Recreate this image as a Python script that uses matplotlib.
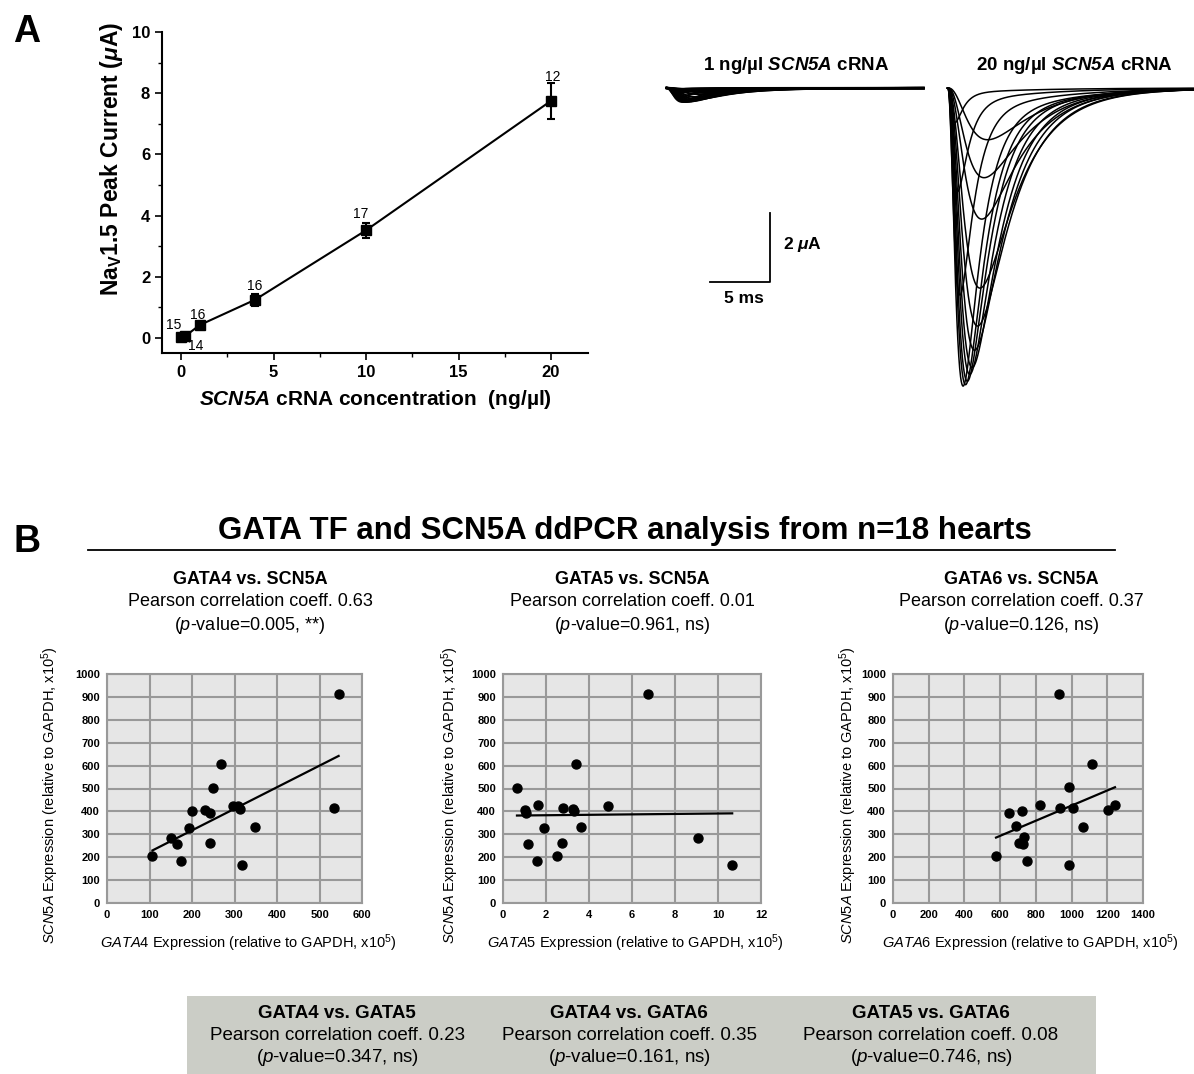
import numpy as np
import matplotlib
matplotlib.use("Agg")
import matplotlib.pyplot as plt
from matplotlib.patches import Rectangle
from matplotlib.lines import Line2D

plt.rcParams['font.family'] = ['Liberation Sans', 'DejaVu Sans']
plt.rcParams['mathtext.fontset'] = 'custom'
plt.rcParams['mathtext.rm'] = 'Liberation Sans'
plt.rcParams['mathtext.it'] = 'Liberation Sans:italic'
plt.rcParams['mathtext.bf'] = 'Liberation Sans:bold'
plt.rcParams['mathtext.bfit'] = 'Liberation Sans:bold:italic'

# ---- Panel A: dose response ----
crna_conc = [0, 0.2, 1, 4, 10, 20]
peak_current = [0.02, 0.05, 0.42, 1.25, 3.52, 7.75]
peak_err = [0.03, 0.04, 0.07, 0.2, 0.24, 0.58]
n_oocytes = ['15', '14', '16', '16', '17', '12']
n_offsets = [(-5, 9), (8, -7), (-1.5, 7.5), (0, 10), (-3.5, 11.5), (1.5, 17.5)]

# ---- Panel A: current traces (peak time after step in ms, peak amplitude in uA) ----
trace_peak_ms = [3.3, 3.0, 2.8, 2.65, 2.45, 2.2, 2.0, 1.8, 1.6, 1.45, 1.25, 1.0, 0.8, 0.6]
trace_amp_20ng = [1.5, 2.6, 3.8, 5.8, 6.9, 7.6, 8.1, 8.3, 8.5, 8.6, 8.64, 6.0, 3.0, 1.0]
trace_amp_1ng = [0.07, 0.12, 0.18, 0.27, 0.32, 0.35, 0.38, 0.39, 0.40, 0.40, 0.40, 0.28, 0.14, 0.05]

# ---- Panel B: ddPCR (relative to GAPDH, x10^5) ----
gata4 = [107, 150, 164, 174, 194, 201, 231, 242, 242, 249, 268, 297, 308, 313, 317, 349, 533, 545]
scn5a_vs_g4 = [205, 284, 258, 184, 329, 401, 408, 392, 262, 504, 605, 424, 424, 411, 166, 334, 415, 913]
gata5 = [0.65, 1.01, 1.06, 1.18, 1.59, 1.62, 1.91, 2.52, 2.75, 2.77, 3.25, 3.30, 3.40, 3.61, 4.88, 6.76, 9.09, 10.66]
scn5a_vs_g5 = [503, 408, 394, 258, 184, 426, 329, 206, 262, 415, 411, 401, 605, 334, 424, 913, 284, 166]
gata6 = [577, 650, 689, 704, 720, 726, 735, 750, 823, 933, 928, 986, 986, 1008, 1064, 1114, 1204, 1243]
scn5a_vs_g6 = [207, 394, 337, 262, 402, 258, 287, 184, 426, 415, 914, 506, 166, 415, 331, 605, 408, 426]

scatter_titles = ['GATA4 vs. SCN5A', 'GATA5 vs. SCN5A', 'GATA6 vs. SCN5A']
scatter_r = ['0.63', '0.01', '0.37']
scatter_p = ['0.005, **', '0.961, ns', '0.126, ns']
box_titles = ['GATA4 vs. GATA5', 'GATA4 vs. GATA6', 'GATA5 vs. GATA6']
box_r = ['0.23', '0.35', '0.08']
box_p = ['0.347, ns', '0.161, ns', '0.746, ns']

W, H = 1194, 1074
fig = plt.figure(figsize=(W / 100, H / 100), dpi=100)


def box(l, t, r, b):
    return [l / W, 1 - b / H, (r - l) / W, (b - t) / H]


def ftext(x, y, s, **kw):
    fig.text(x / W, 1 - y / H, s, ha='center', va='center', **kw)


# panel letters
ftext(27, 32, 'A', fontsize=27, fontweight='bold')
ftext(27, 542, 'B', fontsize=27, fontweight='bold')

# ---------- A: dose response ----------
ax = fig.add_axes(box(162, 32, 588, 353))
ax.errorbar(crna_conc, peak_current, yerr=peak_err, color='black', marker='s',
            markersize=7, lw=1.5, capsize=3, elinewidth=1.5, capthick=1.5)
for x, y, n, off in zip(crna_conc, peak_current, n_oocytes, n_offsets):
    ax.annotate(n, (x, y), xytext=off, textcoords='offset points',
                ha='center', va='center', fontsize=10)
ax.set_xlim(-1.03, 22.0)
ax.set_ylim(-0.49, 10)
ax.set_xticks([0, 5, 10, 15, 20])
ax.set_xticks([2.5, 7.5, 12.5, 17.5], minor=True)
ax.set_yticks([0, 2, 4, 6, 8, 10])
ax.set_yticks([1, 3, 5, 7, 9], minor=True)
for s in ['top', 'right']:
    ax.spines[s].set_visible(False)
for s in ['left', 'bottom']:
    ax.spines[s].set_linewidth(1.5)
ax.tick_params(which='major', length=5, width=1.2, labelsize=12)
ax.tick_params(which='minor', length=3, width=1.0)
for lab in ax.get_xticklabels() + ax.get_yticklabels():
    lab.set_fontweight('bold')
ax.set_ylabel(r'Na$_{\mathbf{V}}$1.5 Peak Current ($\mathbfit{\mu}$A)',
              fontsize=16.5, fontweight='bold')
ax.yaxis.set_label_coords(-0.088, 0.604)
ax.set_xlabel(r'$\mathbfit{SCN5A}$ cRNA concentration  (ng/µl)',
              fontsize=15, fontweight='bold', labelpad=6)

# ---------- A: current traces ----------
tax = fig.add_axes(box(650, 50, 1194, 410))
tax.set_xlim(0, 544 / 12)
tax.set_ylim(-(410 - 88) / 34.5, (88 - 50) / 34.5)
tax.axis('off')


def na_current(t, tp, amp, r=2.3, slow=0.05, tau_slow=6.0):
    tau_m = tp / np.log(3 * r + 1)
    act = (1 - np.exp(-t / tau_m)) ** 3
    i = (1 - slow) * act * np.exp(-t / (r * tau_m)) + slow * act * np.exp(-t / tau_slow)
    return -amp * i / i.max()


for t0, dur, amps, lw in [(1.4, 21.4, trace_amp_1ng, 1.6), (24.8, 20.6, trace_amp_20ng, 1.1)]:
    t = np.linspace(0, dur, 800)
    for tp, a in zip(trace_peak_ms, amps):
        tax.plot(t0 + t, na_current(t, tp, a), color='black', lw=lw)

# scale bar
tax.plot([5.0, 10.0, 10.0], [-5.62, -5.62, -3.62], color='black', lw=1.3)
tax.text(11.1, -4.55, r'2 $\mathbfit{\mu}$A', fontsize=12.5, fontweight='bold', va='center')
tax.text(7.8, -6.1, '5 ms', fontsize=12.5, fontweight='bold', ha='center', va='center')

ftext(796, 66, r'1 ng/µl $\mathbfit{SCN5A}$ cRNA', fontsize=13.5, fontweight='bold')
ftext(1074, 66, r'20 ng/µl $\mathbfit{SCN5A}$ cRNA', fontsize=13.5, fontweight='bold')

# ---------- B: header ----------
ftext(625, 531, 'GATA TF and SCN5A ddPCR analysis from n=18 hearts', fontsize=22.5, fontweight='bold')
fig.add_artist(Line2D([88 / W, 1115 / W], [1 - 550 / H, 1 - 550 / H], color='black', lw=1.3))

# ---------- B: scatter plots ----------
scatter_sets = [
    (gata4, scn5a_vs_g4, 'GATA4', (107, 362), (0, 600), np.arange(0, 601, 100), 248, 50, 250),
    (gata5, scn5a_vs_g5, 'GATA5', (503, 761), (0, 12), np.arange(0, 13, 2), 635, 450, 632),
    (gata6, scn5a_vs_g6, 'GATA6', (893, 1143), (0, 1400), np.arange(0, 1401, 200), 1030, 848, 1021),
]
for k, (xv, yv, gname, (l, r), xlim, xticks, xlab_c, ylab_c, title_c) in enumerate(scatter_sets):
    sax = fig.add_axes(box(l, 674, r, 903))
    sax.set_facecolor('#e6e6e6')
    sax.set_xlim(*xlim)
    sax.set_ylim(0, 1000)
    sax.set_xticks(xticks)
    sax.set_yticks(np.arange(0, 1001, 100))
    sax.grid(True, color='#999999', lw=1.5)
    sax.set_axisbelow(True)
    for s in sax.spines.values():
        s.set_color('#999999')
        s.set_linewidth(1.5)
    sax.tick_params(length=0, labelsize=8, pad=5)
    for lab in sax.get_xticklabels() + sax.get_yticklabels():
        lab.set_fontweight('bold')
    sax.scatter(xv, yv, s=42, color='black', zorder=3, clip_on=False)
    slope, icpt = np.polyfit(xv, yv, 1)
    xs = np.array([min(xv), max(xv)])
    sax.plot(xs, slope * xs + icpt, color='black', lw=1.6, zorder=3)

    ftext(xlab_c, 943, r'$\mathit{' + gname + r'}$ Expression (relative to GAPDH, x10$^5$)', fontsize=10.5)
    fig.text(ylab_c / W, 1 - 795 / H, r'$\mathit{SCN5A}$ Expression (relative to GAPDH, x10$^5$)',
             rotation=90, ha='center', va='center', fontsize=10.5)
    ftext(title_c, 580, scatter_titles[k], fontsize=13, fontweight='bold')
    ftext(title_c, 602, 'Pearson correlation coeff. ' + scatter_r[k], fontsize=13)
    ftext(title_c, 625, r'($\mathit{p}$-value=' + scatter_p[k] + ')', fontsize=13)

# ---------- B: bottom box ----------
fig.add_artist(Rectangle((187 / W, 0), (1096 - 187) / W, (1074 - 996) / H,
                         transform=fig.transFigure, facecolor='#cbcdc6', edgecolor='none', zorder=0))
for cx, t, rv, pv in zip([337, 629, 931], box_titles, box_r, box_p):
    ftext(cx, 1013, t, fontsize=13.5, fontweight='bold')
    ftext(cx, 1035, 'Pearson correlation coeff. ' + rv, fontsize=13.5)
    ftext(cx, 1057, r'($\mathit{p}$-value=' + pv + ')', fontsize=13.5)

fig.savefig('out.png', dpi=100)
